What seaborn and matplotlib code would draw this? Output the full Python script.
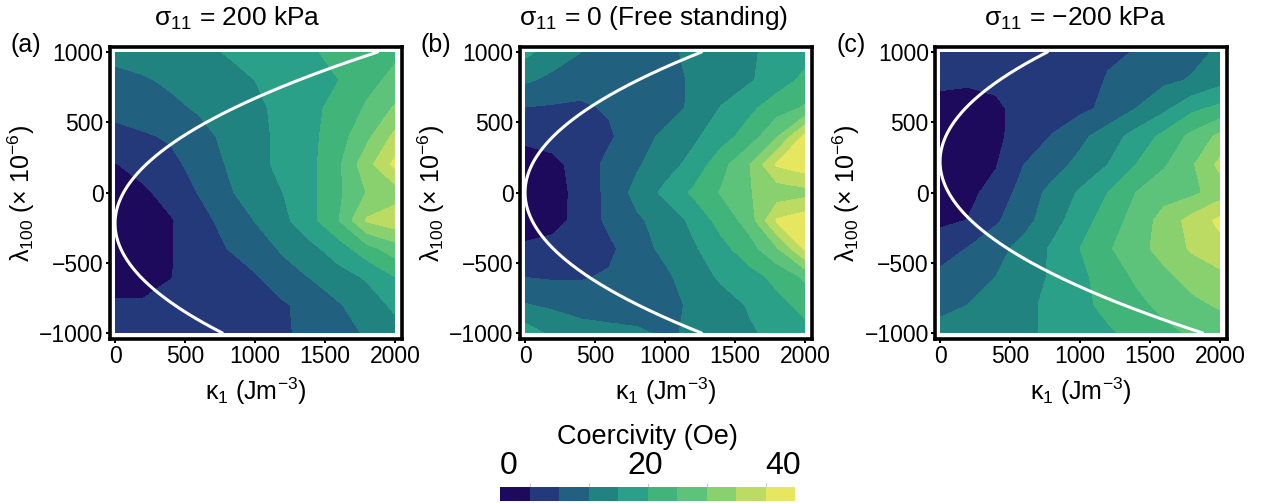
import numpy as np
import matplotlib
matplotlib.use("Agg")
import matplotlib.pyplot as plt
import seaborn as sns

# grid of the simulation (kappa_1 in J/m^3, lambda_100 in 1e-6)
kappa_vals = [0, 200, 400, 600, 800, 1000, 1200, 1400, 1600, 1800, 2000]
lambda_vals = [1000, 800, 600, 400, 200, 0, -200, -400, -600, -800, -1000]

# coercivity (Oe), one row per lambda value (top row = +1000)
coercivity_a = [
    [13, 13.6, 14.3, 15.2, 16.2, 17.3, 18.5, 19.6, 21, 22.5, 23.3],
    [11, 11.6, 12.6, 13.7, 14.9, 16, 17, 18.3, 20, 22.8, 25],
    [9.2, 10.2, 11.2, 12.4, 14, 15.2, 17, 19, 21.3, 24.5, 28.5],
    [6.7, 7.5, 8.5, 10.8, 12.8, 15, 16.8, 19, 22.3, 27, 33],
    [3.8, 5.5, 7, 9.4, 12.2, 14.9, 16.9, 19, 23.4, 30.5, 37],
    [2.5, 3.3, 5.5, 8.2, 11.4, 13.8, 16, 19, 23.3, 28.2, 30],
    [2, 2.5, 3.7, 6.5, 9.4, 12.1, 15, 18.7, 24, 32.5, 34.5],
    [2, 2.5, 3.8, 6, 8, 10.2, 12.5, 15, 18, 22.5, 26],
    [2.5, 3, 3.9, 5.5, 6.7, 7.6, 10.5, 12.2, 14.5, 16.5, 20],
    [4.4, 4.3, 5, 5.8, 6.3, 6.8, 7.5, 9.5, 11.7, 14, 16.8],
    [6, 5.8, 6.5, 7, 7.5, 7.5, 7.5, 9, 11, 12.3, 14.5],
]
coercivity_b = [
    [17, 14, 12, 10, 10, 11, 13, 14, 15.5, 17, 18.5],
    [12.6, 11, 10, 9.5, 9.5, 10.5, 12.5, 14, 15.5, 18, 21],
    [7.8, 7.5, 7.2, 8.5, 9.5, 10.8, 12.5, 16.2, 19, 22.3, 24.5],
    [4.7, 5.2, 6, 7.3, 10.7, 12.6, 15.2, 18.2, 21.8, 27.5, 37],
    [2.5, 3.2, 5.2, 9.3, 11.5, 14.3, 17.2, 22.5, 27.7, 36.5, 38.5],
    [1.5, 2.8, 5, 9.2, 13.2, 16.9, 20.6, 24.3, 27.8, 29.5, 30.5],
    [2.5, 3, 5, 9, 11.4, 13.5, 16.9, 21.5, 25.5, 36.5, 38.5],
    [4.5, 5, 5.5, 7, 10.6, 12.8, 15.4, 18.6, 22.3, 27.5, 36.5],
    [7.9, 7.5, 7.6, 8.5, 9.7, 11.3, 13.8, 16.6, 18.5, 21, 24.7],
    [12.2, 11.3, 10.5, 10.2, 10.3, 11, 12.5, 14.3, 16.3, 19, 21],
    [18, 15, 13.5, 13, 12.5, 11.5, 12.5, 13.5, 15.5, 17, 19],
]
coercivity_c = [
    [6, 6.3, 6.5, 6.8, 7, 7.3, 7.6, 8.1, 9.5, 11, 12.5],
    [4.6, 4.4, 4.6, 5.3, 6, 6.8, 8.2, 10, 11.2, 12.3, 14.5],
    [3, 2.8, 3.5, 5, 6, 7, 9, 12, 15, 19, 21],
    [2, 2.5, 3.3, 5.5, 8.2, 11, 14, 17.5, 21, 25, 29],
    [2, 2.6, 3.8, 8, 10.5, 13, 16, 20, 23.5, 27.5, 33],
    [2.5, 3.3, 5, 10, 13, 16.5, 20, 24, 26.5, 27, 30],
    [3.3, 4.1, 7.5, 10.5, 14.5, 18, 22, 25.5, 29.5, 33.5, 37],
    [6, 8.2, 10.5, 13.5, 16.5, 20, 23.5, 26.5, 29.5, 32.5, 34.5],
    [9, 10.5, 12, 14, 16.5, 19, 22, 24.5, 27, 29.5, 31],
    [11.2, 12, 13.5, 15, 17, 19, 21, 23, 25, 27, 28.5],
    [13, 13.5, 14.5, 15.5, 16.5, 18, 19.5, 21, 23, 24.5, 25.5],
]

titles = ["σ$_{11}$ = 200 kPa", "σ$_{11}$ = 0 (Free standing)", "σ$_{11}$ = −200 kPa"]
panel_tags = ["(a)", "(b)", "(c)"]

# white boundary curve: kappa = coef * (lambda - shift)^2
curve_coef = 1.26e-3
curve_shift = [-220, 0, 220]

levels = [0, 4, 8, 12, 16, 20, 24, 28, 32, 36, 40]
bin_colors = ["#1e0a5c", "#23397a", "#22607f", "#21837f", "#2ba088",
              "#41b47a", "#5dc37a", "#89d06f", "#bcdb63", "#e6e65f"]

sns.set_theme(style="white")
plt.rcParams["font.family"] = ["Liberation Sans", "DejaVu Sans"]
plt.rcParams["mathtext.fontset"] = "custom"
plt.rcParams["mathtext.rm"] = "Liberation Sans"
plt.rcParams["mathtext.it"] = "Liberation Sans:italic"
plt.rcParams["axes.unicode_minus"] = True
for key in ["text.color", "axes.labelcolor", "xtick.color", "ytick.color"]:
    plt.rcParams[key] = "black"

palette = sns.color_palette(bin_colors)

fig = plt.figure(figsize=(12.61, 5.03), dpi=100)

ax_left = [110, 520, 935]
title_x = [237, 654, 1075]
tag_x = [10, 421, 836]
W, H = 1261, 503

data = [coercivity_a, coercivity_b, coercivity_c]
cs = None
for i in range(3):
    ax = fig.add_axes([ax_left[i] / W, (H - 339) / H, 292 / W, 292 / H])
    ax.set_facecolor("white")
    z = np.array(data[i])
    cs = ax.contourf(kappa_vals, lambda_vals, z, levels=levels, colors=palette)

    lam = np.linspace(-1000, 1000, 401)
    kap = curve_coef * (lam - curve_shift[i]) ** 2
    keep = kap <= 2000
    ax.plot(kap[keep], lam[keep], color="white", lw=2.2)

    ax.set_xlim(-36, 2050)
    ax.set_ylim(-1043, 1036)
    ax.set_xticks([0, 500, 1000, 1500, 2000])
    ax.set_yticks([-1000, -500, 0, 500, 1000])
    ax.tick_params(direction="out", length=3, width=1.5, labelsize=16.5,
                   pad=1.5, color="black", left=True, bottom=True)
    for sp in ax.spines.values():
        sp.set_linewidth(2.6)
        sp.set_color("black")
    ax.set_xlabel("κ$_1$ (Jm$^{-3}$)", fontsize=18, labelpad=5)
    ax.set_ylabel("λ$_{100}$ (× 10$^{-6}$)", fontsize=18, labelpad=2)
    ax.grid(False)

    fig.text(title_x[i] / W, 1 - 18 / H, titles[i], ha="center", va="center",
             fontsize=19)
    fig.text(tag_x[i] / W, 1 - 45 / H, panel_tags[i], ha="left", va="center",
             fontsize=18)

# colorbar
cax = fig.add_axes([500 / W, 2 / H, 295 / W, 14 / H])
cbar = fig.colorbar(cs, cax=cax, orientation="horizontal")
cbar.outline.set_visible(False)
cbar.set_ticks([4, 12, 20, 28, 36])
cbar.ax.xaxis.set_ticks_position("top")
cbar.ax.tick_params(direction="out", length=3, width=0.8, color="#cccccc",
                    labeltop=False, labelbottom=False)
fig.text(647 / W, 1 - 437 / H, "Coercivity (Oe)", ha="center", va="center",
         fontsize=19.5)
fig.text(500 / W, 1 - 466 / H, "0", ha="left", va="center", fontsize=23)
fig.text(645 / W, 1 - 466 / H, "20", ha="center", va="center", fontsize=23)
fig.text(801 / W, 1 - 466 / H, "40", ha="right", va="center", fontsize=23)

fig.savefig("out.png", dpi=100)
